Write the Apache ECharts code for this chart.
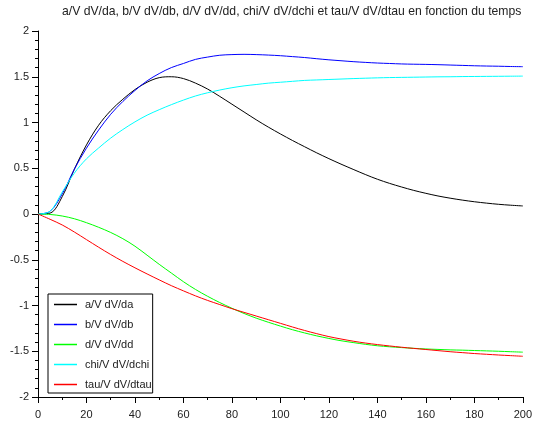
<!DOCTYPE html>
<html><head><meta charset="utf-8">
<script src="https://cdn.jsdelivr.net/npm/echarts@6/dist/echarts.min.js"></script>
<style>html,body{margin:0;padding:0;background:#fff}#c{width:535px;height:422px}</style>
</head><body><div id="c"></div>
<script>
const times = [0,5,10,15,20,25,30,35,40,45,50,55,60,65,70,75,80,85,90,95,100,105,110,115,120,125,130,135,140,145,150,155,160,165,170,175,180,185,190,195,200];
const aVals = [0,0.01,0.19,0.49,0.755,0.97,1.13,1.254,1.36,1.44,1.49,1.50,1.48,1.43,1.365,1.285,1.20,1.115,1.03,0.95,0.875,0.803,0.735,0.668,0.605,0.545,0.488,0.432,0.38,0.335,0.295,0.258,0.226,0.197,0.173,0.152,0.134,0.119,0.106,0.096,0.088];
const bVals = [0,0.03,0.22,0.49,0.72,0.917,1.09,1.23,1.35,1.455,1.535,1.60,1.645,1.69,1.715,1.735,1.742,1.745,1.742,1.737,1.73,1.72,1.71,1.697,1.685,1.675,1.665,1.657,1.65,1.645,1.64,1.637,1.635,1.632,1.628,1.624,1.62,1.617,1.615,1.612,1.61];
const dVals = [0,-0.005,-0.022,-0.052,-0.095,-0.145,-0.202,-0.27,-0.352,-0.45,-0.55,-0.645,-0.74,-0.825,-0.90,-0.968,-1.03,-1.087,-1.138,-1.183,-1.225,-1.265,-1.30,-1.332,-1.36,-1.385,-1.405,-1.424,-1.44,-1.451,-1.46,-1.468,-1.475,-1.48,-1.485,-1.488,-1.492,-1.496,-1.50,-1.505,-1.51];
const chiVals = [0,0.03,0.24,0.447,0.603,0.721,0.83,0.923,1.007,1.08,1.14,1.195,1.245,1.29,1.325,1.355,1.38,1.40,1.415,1.43,1.44,1.45,1.46,1.465,1.47,1.475,1.48,1.484,1.488,1.491,1.493,1.495,1.497,1.499,1.50,1.502,1.503,1.504,1.505,1.506,1.507];
const tauVals = [0,-0.058,-0.12,-0.197,-0.28,-0.363,-0.443,-0.518,-0.588,-0.655,-0.72,-0.783,-0.84,-0.895,-0.945,-0.99,-1.035,-1.075,-1.115,-1.155,-1.195,-1.235,-1.273,-1.308,-1.34,-1.366,-1.39,-1.41,-1.427,-1.442,-1.456,-1.469,-1.481,-1.493,-1.505,-1.515,-1.525,-1.533,-1.541,-1.548,-1.555];
const seriesNames = ['a/V dV/da','b/V dV/db','d/V dV/dd','chi/V dV/dchi','tau/V dV/dtau'];
const seriesColors = ['#000000','#0000ff','#00ff00','#00ffff','#ff0000'];
const titleText = 'a/V dV/da, b/V dV/db, d/V dV/dd, chi/V dV/dchi et tau/V dV/dtau en fonction du temps';

const allVals = [aVals,bVals,dVals,chiVals,tauVals];
const font = 'Liberation Sans';
const chart = echarts.init(document.getElementById('c'), null, {renderer:'canvas'});
chart.setOption({
  animation:false,
  backgroundColor:'#fff',
  title:{text:titleText,left:62,top:6,padding:0,textStyle:{fontFamily:font,fontSize:12.2,fontWeight:'normal',color:'#222'}},
  grid:{left:38,right:8,top:31,bottom:25,containLabel:false},
  legend:{
    orient:'vertical',left:48,top:294,itemWidth:23,itemHeight:1.5,itemGap:9,
    icon:'rect',
    padding:[5,1,3,6],borderColor:'#000',borderWidth:1,
    textStyle:{fontFamily:font,fontSize:11,fontWeight:'normal',color:'#222',padding:[0,0,0,3]},
    data:seriesNames
  },
  xAxis:{type:'value',min:0,max:200,interval:20,
    axisLine:{onZero:false,lineStyle:{color:'#000',width:1}},
    axisTick:{length:6,lineStyle:{color:'#000'}},
    minorTick:{show:true,splitNumber:2,length:3,lineStyle:{color:'#000'}},
    splitLine:{show:false},
    axisLabel:{fontFamily:font,fontSize:11,color:'#222',margin:12}
  },
  yAxis:{type:'value',min:-2,max:2,interval:0.5,
    axisLine:{show:true,onZero:false,lineStyle:{color:'#000',width:1}},
    axisTick:{show:true,length:6,lineStyle:{color:'#000'}},
    minorTick:{show:true,splitNumber:5,length:3,lineStyle:{color:'#000'}},
    splitLine:{show:false},
    axisLabel:{fontFamily:font,fontSize:11,color:'#222',margin:9}
  },
  series: seriesNames.map((n,i)=>({
    name:n,type:'line',symbol:'none',smooth:0.35,
    color:seriesColors[i],
    lineStyle:{width:1,color:seriesColors[i]},
    data:times.map((t,k)=>[t,allVals[i][k]])
  }))
});
</script></body></html>
